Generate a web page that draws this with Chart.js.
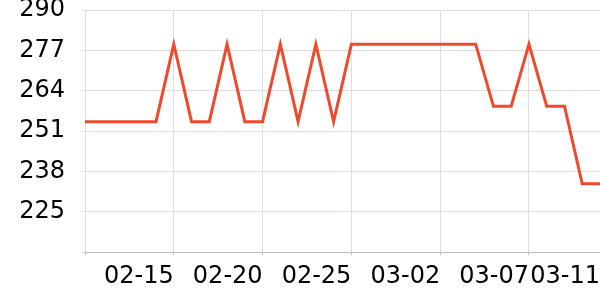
<!DOCTYPE html>
<html>
<head>
<meta charset="utf-8">
<script src="https://cdn.jsdelivr.net/npm/chart.js@4"></script>
<style>
  html, body { margin: 0; padding: 0; background: #fff; }
  #wrap { width: 600px; height: 300px; }
</style>
</head>
<body>
<div id="wrap"><canvas id="chart" width="600" height="300"></canvas></div>
<script>
const dates = [
  '02-10','02-11','02-12','02-13','02-14','02-15','02-16','02-17','02-18','02-19',
  '02-20','02-21','02-22','02-23','02-24','02-25','02-26','02-27','02-28','03-01',
  '03-02','03-03','03-04','03-05','03-06','03-07','03-08','03-09','03-10','03-11'
];
const prices = [
  254, 254, 254, 254, 254, 279, 254, 254, 279, 254,
  254, 279, 254, 279, 254, 279, 279, 279, 279, 279,
  279, 279, 279, 259, 259, 279, 259, 259, 234, 234
];
const yMin = 212, yMax = 290, yStep = 13;

const shown = i => i % 5 === 0;

const ctx = document.getElementById('chart');
new Chart(ctx, {
  type: 'line',
  data: {
    labels: dates,
    datasets: [{
      data: prices,
      borderColor: '#ee4a2c',
      borderWidth: 3,
      pointRadius: 0,
      tension: 0,
      fill: false
    }]
  },
  options: {
    responsive: false,
    animation: false,
    layout: { padding: { top: 10, right: 0, bottom: 0, left: 0 } },
    plugins: { legend: { display: false }, tooltip: { enabled: false } },
    scales: {
      x: {
        offset: false,
        border: { color: '#bbbbbb', width: 1 },
        grid: {
          color: c => shown(c.index) ? '#dddddd' : 'rgba(0,0,0,0)',
          tickColor: c => shown(c.index) ? '#bbbbbb' : 'rgba(0,0,0,0)',
          tickLength: 3,
          lineWidth: 1
        },
        ticks: {
          autoSkip: false,
          maxRotation: 0,
          align: 'end',
          padding: 7,
          color: '#000',
          font: { family: 'DejaVu Sans', size: 24 },
          callback: function (v, i) {
            return (shown(i) && i > 0) || i === dates.length - 1 ? dates[i] : '';
          }
        },
        afterFit: s => { s.paddingLeft = 0; s.paddingRight = 0; s.height = 48; }
      },
      y: {
        min: yMin,
        max: yMax,
        border: { display: false },
        grid: { color: '#dddddd', tickLength: 3, lineWidth: 1 },
        ticks: {
          stepSize: yStep,
          padding: 17,
          color: '#000',
          font: { family: 'DejaVu Sans', size: 24 },
          callback: v => v === yMin ? '' : v
        },
        afterFit: s => { s.paddingTop = 0; s.paddingBottom = 0; s.width = 85; }
      }
    }
  }
});
</script>
</body>
</html>
